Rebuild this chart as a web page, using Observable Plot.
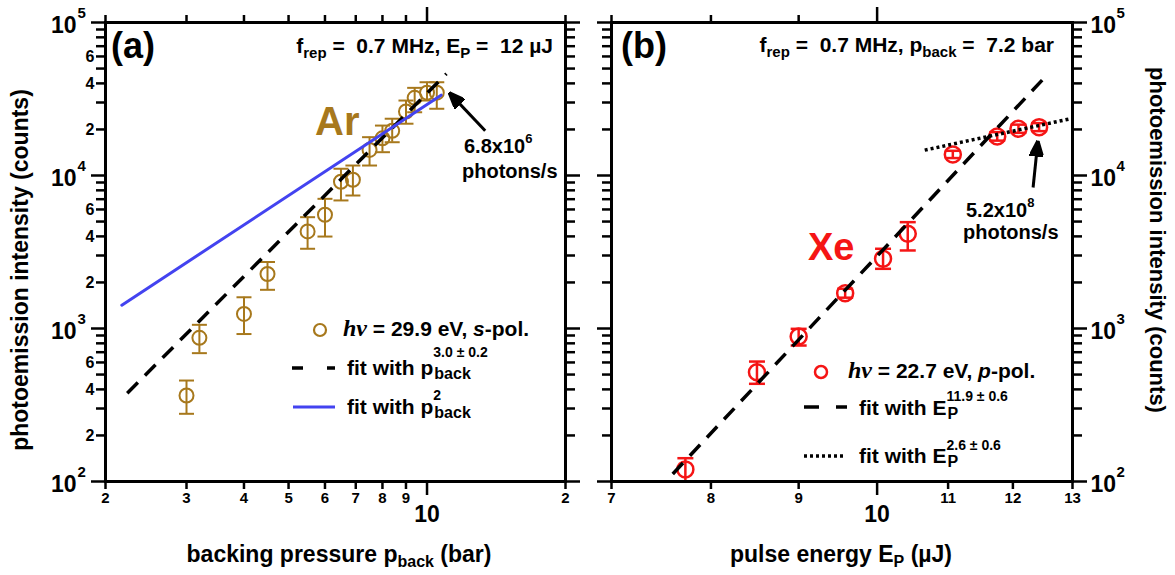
<!DOCTYPE html>
<html>
<head>
<meta charset="utf-8">
<script src="https://cdn.jsdelivr.net/npm/d3@7"></script>
<script src="https://cdn.jsdelivr.net/npm/@observablehq/plot@0.6"></script>
<style>
html,body{margin:0;padding:0;background:#fff;}
#root{position:relative;width:1175px;height:575px;overflow:hidden;background:#fff;}
#root svg{position:absolute;left:0;top:0;overflow:visible;background:transparent;}
</style>
</head>
<body>
<div id="root"></div>
<script>
// ---------------- data ----------------
// Panel (a): Ar, photoemission intensity vs backing pressure
const arPressure = [3.0, 3.2, 4.0, 4.5, 5.5, 6.0, 6.5, 6.9, 7.5, 8.0, 8.4, 9.0, 9.4, 10.0, 10.5];
const arCounts   = [365, 869, 1245, 2270, 4310, 5540, 9100, 9380, 14700, 17500, 19600, 26200, 32200, 34800, 34800];
const arErrHigh  = [457, 1057, 1600, 2720, 5340, 7040, 11070, 11620, 17800, 21200, 23500, 30900, 37400, 40700, 40700];
const arErrLow   = [277, 690, 920, 1790, 3320, 3990, 6870, 7400, 11620, 14200, 16500, 21800, 25900, 30900, 27300];
// fit lines (a): end points
const fitA3Pressure = [2.23, 11.02];
const fitA3Counts   = [378, 46200];
const fitA2Pressure = [2.17, 10.73];
const fitA2Counts   = [1420, 33500];
// arrow (a): tail -> head
const arrowAPressure = [13.38, 11.17];
const arrowACounts   = [19600, 34800];

// Panel (b): Xe, photoemission intensity vs pulse energy
const xeEnergy  = [7.73, 8.51, 9.0, 9.58, 10.08, 10.42, 11.07, 11.75, 12.09, 12.43];
const xeCounts  = [120, 518, 887, 1700, 2860, 4160, 13700, 18000, 20200, 20700];
const xeErrHigh = [142, 608, 995, 1820, 3320, 4955, 14500, 19200, 21500, 22000];
const xeErrLow  = [100, 435, 774, 1590, 2455, 3236, 13000, 16900, 19000, 19500];
// fit lines (b)
const fitB12Energy = [7.60, 12.52];
const fitB12Counts = [112, 43600];
const fitB26Energy = [10.66, 12.93];
const fitB26Counts = [14650, 23350];
// arrow (b): tail -> head
const arrowBEnergy = [12.33, 12.41];
const arrowBCounts = [8350, 16900];

// ticks and tick labels
const yMajorTicks = [100, 1000, 10000, 100000];
const yMajorExp   = ["2", "3", "4", "5"];
const yMinorTicks = [200,300,400,500,600,700,800,900,2000,3000,4000,5000,6000,7000,8000,9000,20000,30000,40000,50000,60000,70000,80000,90000];
const yLabeledMinor     = [200, 400, 600, 2000, 4000, 6000, 20000, 40000, 60000];
const yLabeledMinorText = ["2","4","6","2","4","6","2","4","6"];
const xTicksA      = [2, 3, 4, 5, 6, 7, 8, 9, 20];
const xTickLabelsA = ["2","3","4","5","6","7","8","9","2"];
const xTicksB      = [7, 8, 9, 11, 12, 13];
const xTickLabelsB = ["7","8","9","11","12","13"];
const xTopTicksB   = [7, 8, 9];
const xMajor       = [10];
const xMajorLabel  = "10";

// ---------------- styles ----------------
const AR = "#A7781C", XE = "#F51515", BLUE = "#4343F0";
const FONT = "'Liberation Sans', Arial, sans-serif";
const NS = "http://www.w3.org/2000/svg";
const TS = 2.5;

const capSymbol = {draw(ctx, size) { const w = Math.sqrt(size / Math.PI); ctx.moveTo(-w, 0); ctx.lineTo(w, 0); }};
function headMarker(color) {
  const m = document.createElementNS(NS, "marker");
  m.setAttribute("viewBox", "-16 -7 16 14");
  m.setAttribute("markerWidth", "16");
  m.setAttribute("markerHeight", "14");
  m.setAttribute("markerUnits", "userSpaceOnUse");
  m.setAttribute("orient", "auto");
  m.setAttribute("refX", "0");
  m.setAttribute("refY", "0");
  const p = document.createElementNS(NS, "path");
  p.setAttribute("d", "M-16,-6.5L0,0L-16,6.5Z");
  p.setAttribute("fill", color);
  m.appendChild(p);
  return m;
}

const zipPts = (xs, ys) => xs.map((x, i) => ({x, y: ys[i]}));
const errPts = (xs, c, hi, lo) => xs.map((x, i) => ({x, c: c[i], hi: hi[i], lo: lo[i]}));
const axOpt = {strokeWidth: TS, fill: "none", label: null};

function axes(xMinorBottom, xMinorTop) {
  return [
    Plot.axisY({anchor: "left", ticks: yMinorTicks, tickSize: 9, ...axOpt}),
    Plot.axisY({anchor: "left", ticks: yMajorTicks, tickSize: 14, ...axOpt}),
    Plot.axisY({anchor: "right", ticks: yMinorTicks, tickSize: 9, ...axOpt}),
    Plot.axisY({anchor: "right", ticks: yMajorTicks, tickSize: 14, ...axOpt}),
    Plot.axisX({anchor: "bottom", ticks: xMinorBottom, tickSize: 8, ...axOpt}),
    Plot.axisX({anchor: "bottom", ticks: xMajor, tickSize: 14, ...axOpt}),
    Plot.axisX({anchor: "top", ticks: xMinorTop, tickSize: 8, ...axOpt}),
    Plot.axisX({anchor: "top", ticks: xMajor, tickSize: 16, ...axOpt}),
    Plot.frame({strokeWidth: 3})
  ];
}
function xLabels(ticks, labels) {
  return [
    Plot.text(ticks, {x: d => d, text: (d, i) => labels[i], frameAnchor: "bottom", dy: 21, fontSize: 15, fontWeight: "bold", fontFamily: FONT}),
    Plot.text(xMajor, {x: d => d, text: () => xMajorLabel, frameAnchor: "bottom", dy: 40, fontSize: 23, fontWeight: "bold", fontFamily: FONT})
  ];
}
function dataMarks(pts, color, r, capR, sw) {
  return [
    Plot.ruleX(pts, {x: "x", y1: "lo", y2: "hi", stroke: color, strokeWidth: sw}),
    Plot.dot(pts, {x: "x", y: "hi", symbol: capSymbol, r: capR, stroke: color, fill: "none", strokeWidth: sw}),
    Plot.dot(pts, {x: "x", y: "lo", symbol: capSymbol, r: capR, stroke: color, fill: "none", strokeWidth: sw}),
    Plot.dot(pts, {x: "x", y: "c", r: r, stroke: color, fill: "none", strokeWidth: sw})
  ];
}

const root = document.getElementById("root");

// ---------------- panel (a) ----------------
const arPts = errPts(arPressure, arCounts, arErrHigh, arErrLow);
const plotA = Plot.plot({
  width: 1175, height: 575,
  marginLeft: 105, marginRight: 610, marginTop: 22, marginBottom: 94,
  x: {type: "log", domain: [2, 20], axis: null},
  y: {type: "log", domain: [100, 100000], axis: null},
  style: {background: "transparent", overflow: "visible"},
  marks: [
    ...dataMarks(arPts, AR, 7, 7.5, 2),
    Plot.line(zipPts(fitA3Pressure, fitA3Counts), {x: "x", y: "y", stroke: "#000", strokeWidth: 3.5, strokeLinecap: "butt", strokeDasharray: "15,10"}),
    Plot.line(zipPts(fitA2Pressure, fitA2Counts), {x: "x", y: "y", stroke: BLUE, strokeWidth: 3}),
    Plot.link([0], {x1: () => arrowAPressure[0], y1: () => arrowACounts[0], x2: () => arrowAPressure[1], y2: () => arrowACounts[1], stroke: "#000", strokeWidth: 3, markerEnd: headMarker}),
    ...axes(xTicksA, xTicksA),
    ...xLabels(xTicksA, xTickLabelsA),
    Plot.text(yLabeledMinor, {y: d => d, text: (d, i) => yLabeledMinorText[i], frameAnchor: "left", dx: -11, textAnchor: "end", fontSize: 16, fontWeight: "bold", fontFamily: FONT}),
    Plot.text(yMajorTicks, {y: d => d, text: () => "10", frameAnchor: "left", dx: -29, dy: 3, textAnchor: "end", fontSize: 23, fontWeight: "bold", fontFamily: FONT}),
    Plot.text(yMajorTicks, {y: d => d, text: (d, i) => yMajorExp[i], frameAnchor: "left", dx: -28, dy: -9, textAnchor: "start", fontSize: 15, fontWeight: "bold", fontFamily: FONT})
  ]
});
root.appendChild(plotA);

// ---------------- panel (b) ----------------
const xePts = errPts(xeEnergy, xeCounts, xeErrHigh, xeErrLow);
const plotB = Plot.plot({
  width: 1175, height: 575,
  marginLeft: 611, marginRight: 103, marginTop: 22, marginBottom: 94,
  x: {type: "log", domain: [7, 13], axis: null},
  y: {type: "log", domain: [100, 100000], axis: null},
  style: {background: "transparent", overflow: "visible"},
  marks: [
    ...dataMarks(xePts, XE, 8, 8, 2.5),
    Plot.line(zipPts(fitB12Energy, fitB12Counts), {x: "x", y: "y", stroke: "#000", strokeWidth: 3.5, strokeLinecap: "butt", strokeDasharray: "15,10"}),
    Plot.line(zipPts(fitB26Energy, fitB26Counts), {x: "x", y: "y", stroke: "#000", strokeWidth: 3.5, strokeLinecap: "butt", strokeDasharray: "3,3"}),
    Plot.link([0], {x1: () => arrowBEnergy[0], y1: () => arrowBCounts[0], x2: () => arrowBEnergy[1], y2: () => arrowBCounts[1], stroke: "#000", strokeWidth: 3, markerEnd: headMarker}),
    ...axes(xTicksB, xTopTicksB),
    ...xLabels(xTicksB, xTickLabelsB),
    Plot.text(yMajorTicks, {y: d => d, text: () => "10", frameAnchor: "right", dx: 18, dy: 3, textAnchor: "start", fontSize: 23, fontWeight: "bold", fontFamily: FONT}),
    Plot.text(yMajorTicks, {y: d => d, text: (d, i) => yMajorExp[i], frameAnchor: "right", dx: 44, dy: -9, textAnchor: "start", fontSize: 15, fontWeight: "bold", fontFamily: FONT})
  ]
});
root.appendChild(plotB);

// ---------------- text overlay: titles, annotations, legends ----------------
const ov = d3.select(root).append("svg")
  .attr("width", 1175).attr("height", 575)
  .attr("font-family", FONT).attr("font-weight", "bold");

function addText(x, y, parts, {size = 20, anchor = "start", fill = "#000", rotate = 0} = {}) {
  const t = ov.append("text").attr("font-size", size).attr("fill", fill)
    .attr("text-anchor", anchor).style("white-space", "pre");
  if (rotate) t.attr("transform", `translate(${x},${y}) rotate(${rotate})`);
  else t.attr("x", x).attr("y", y);
  let cur = 0;
  for (const p of parts) {
    const s = typeof p === "string" ? {t: p} : p;
    const off = s.off || 0;
    const ts = t.append("tspan").text(s.t).attr("dy", off - cur);
    cur = off;
    if (s.size) ts.attr("font-size", s.size);
    if (s.italic) ts.attr("font-style", "italic");
    if (s.serif) ts.attr("font-family", "'Liberation Serif','Times New Roman',serif");
  }
  return t;
}
// main text + stacked superscript / subscript after it
function addStack(x, y, main, sup, supOff, sub, subOff, size, supSize, subSize) {
  const t = ov.append("text").attr("font-size", size).attr("x", x).attr("y", y).style("white-space", "pre");
  const m = t.append("tspan").text(main);
  const w = m.node().getComputedTextLength();
  t.append("tspan").attr("x", x + w).attr("dy", supOff).attr("font-size", supSize).text(sup);
  t.append("tspan").attr("x", x + w + 1).attr("dy", subOff - supOff).attr("font-size", subSize).text(sub);
}

// panel labels and headers
addText(111, 58, ["(a)"], {size: 36});
addText(621, 58, ["(b)"], {size: 36});
addText(553, 53, ["f", {t: "rep", size: 15, off: 5}, " =  0.7 MHz, E", {t: "P", size: 15, off: 5}, " =  12 µJ"], {size: 21, anchor: "end"});
addText(1054, 52, ["f", {t: "rep", size: 15, off: 5}, " =  0.7 MHz, p", {t: "back", size: 15, off: 5}, " =  7.2 bar"], {size: 21, anchor: "end"});
addText(315, 135, ["Ar"], {size: 40, fill: AR});
addText(808, 260, ["Xe"], {size: 38, fill: XE});
addText(464, 153, ["6.8x10", {t: "6", size: 13, off: -10}], {size: 20});
addText(462, 178, ["photons/s"], {size: 20});
addText(966, 217, ["5.2x10", {t: "8", size: 13, off: -10}], {size: 20});
addText(963, 239, ["photons/s"], {size: 20});

// axis titles
addText(28, 270, ["photoemission intensity (counts)"], {size: 23, anchor: "middle", rotate: -90});
addText(1150, 240, ["photoemission intensity (counts)"], {size: 22, anchor: "middle", rotate: 90});
addText(339, 562, ["backing pressure p", {t: "back", size: 16, off: 5}, " (bar)"], {size: 23, anchor: "middle"});
addText(841, 562, ["pulse energy E", {t: "P", size: 16, off: 5}, " (µJ)"], {size: 23, anchor: "middle"});

// legend (a)
ov.append("circle").attr("cx", 320).attr("cy", 330).attr("r", 6).attr("fill", "none").attr("stroke", AR).attr("stroke-width", 2.2);
addText(343, 336, [{t: "hν", serif: true, italic: true, size: 24}, " = 29.9 eV, ", {t: "s", italic: true}, "-pol."], {size: 21});
ov.append("line").attr("x1", 292).attr("x2", 335).attr("y1", 368).attr("y2", 368).attr("stroke", "#000").attr("stroke-width", 3.5).attr("stroke-dasharray", "11,24");
addStack(347, 375, "fit with p", "3.0 ± 0.2", -18, "back", 4, 21, 14, 16);
ov.append("line").attr("x1", 293).attr("x2", 335).attr("y1", 407).attr("y2", 407).attr("stroke", BLUE).attr("stroke-width", 3);
addStack(347, 414, "fit with p", "2", -14, "back", 4, 21, 14, 16);

// legend (b)
ov.append("circle").attr("cx", 821).attr("cy", 372).attr("r", 6).attr("fill", "none").attr("stroke", XE).attr("stroke-width", 2.5);
addText(848, 378, [{t: "hν", serif: true, italic: true, size: 24}, " = 22.7 eV, ", {t: "p", italic: true}, "-pol."], {size: 21});
ov.append("line").attr("x1", 804).attr("x2", 847).attr("y1", 407).attr("y2", 407).attr("stroke", "#000").attr("stroke-width", 3.5).attr("stroke-dasharray", "15,17");
addStack(859, 415, "fit with E", "11.9 ± 0.6", -14, "P", 4, 21, 14, 16);
ov.append("line").attr("x1", 804).attr("x2", 845).attr("y1", 456).attr("y2", 456).attr("stroke", "#000").attr("stroke-width", 3.5).attr("stroke-dasharray", "3,3");
addStack(859, 463, "fit with E", "2.6 ± 0.6", -13, "P", 4, 21, 14, 16);
</script>
</body>
</html>
